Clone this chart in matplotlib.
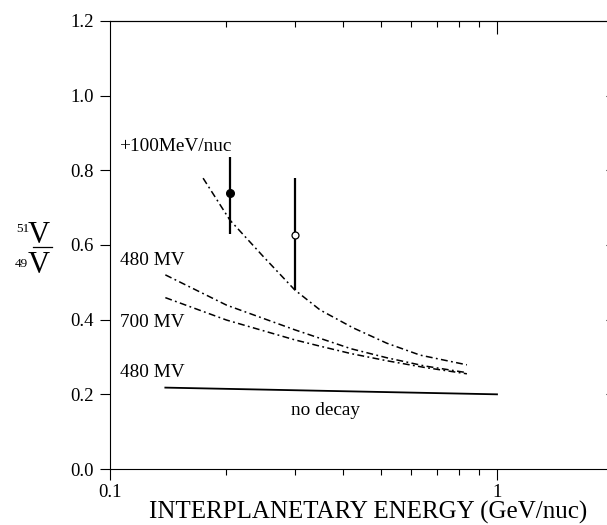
import numpy as np
import matplotlib.pyplot as plt
from matplotlib.lines import Line2D

plt.rcParams['font.family'] = ['Liberation Serif', 'DejaVu Serif']
plt.rcParams['font.serif'] = ['Liberation Serif', 'DejaVu Serif']

# curves
x_480a = [0.139, 0.2, 0.3, 0.349, 0.42, 0.519, 0.65, 0.836]
y_480a = [0.52, 0.439, 0.373, 0.350, 0.322, 0.298, 0.276, 0.258]
x_700 = [0.139, 0.2, 0.3, 0.349, 0.42, 0.519, 0.65, 0.836]
y_700 = [0.459, 0.399, 0.346, 0.329, 0.309, 0.290, 0.272, 0.255]
x_100 = [0.174, 0.204, 0.249, 0.3, 0.349, 0.425, 0.519, 0.633, 0.836]
y_100 = [0.779, 0.667, 0.569, 0.48, 0.426, 0.378, 0.337, 0.305, 0.279]
x_nodecay = [0.139, 1.0]
y_nodecay = [0.218, 0.200]

# data points
x_pts = [0.204, 0.3]
y_pts = [0.739, 0.627]
y_lo = [0.629, 0.48]
y_hi = [0.837, 0.779]

W, H = 607, 525
fig = plt.figure(figsize=(W / 100, H / 100), dpi=100)
ax = fig.add_axes([110 / W, 1 - 469 / H, 503.5 / W, 448 / H])

ds = (0, (4.5, 2.2, 1.2, 2.2))
ax.plot(x_480a, y_480a, color='black', lw=1.1, linestyle=ds)
ax.plot(x_700, y_700, color='black', lw=1.1, linestyle=ds)
ax.plot(x_100, y_100, color='black', lw=1.1, linestyle=ds)
ax.plot(x_nodecay, y_nodecay, color='black', lw=1.3)

ax.vlines(x_pts, y_lo, y_hi, color='black', lw=1.6)
ax.plot(x_pts[0], y_pts[0], 'o', color='black', ms=5.5)
ax.plot(x_pts[1], y_pts[1], 'o', mfc='white', mec='black', mew=0.9, ms=5)

ax.set_xscale('log')
ax.set_xlim(0.1, 2.0)
ax.set_ylim(0.0, 1.2)

ax.set_xticks([0.1, 1])
ax.set_xticklabels(['0.1', '1'], family='Liberation Serif')
ax.set_xticks([0.2, 0.3, 0.4, 0.5, 0.6, 0.7, 0.8, 0.9], minor=True)
ax.xaxis.set_minor_formatter(plt.NullFormatter())
ax.set_yticks([0.0, 0.2, 0.4, 0.6, 0.8, 1.0, 1.2])
ax.set_yticklabels(['0.0', '0.2', '0.4', '0.6', '0.8', '1.0', '1.2'],
                   family='Liberation Serif')

ax.tick_params(axis='x', which='major', direction='out', length=8, width=0.8,
               labelsize=13.5, pad=3, top=False)
ax.tick_params(axis='x', which='minor', direction='out', length=4, width=0.8,
               top=False)
ax.tick_params(axis='y', which='major', direction='out', length=7.5, width=0.8,
               labelsize=13.5, pad=4, right=False)
for s in ax.spines.values():
    s.set_linewidth(0.8)

# ticks on top (inside) and right (inside)
sec = ax.secondary_xaxis('top')
sec.set_xticks([1])
sec.set_xticks([0.2, 0.3, 0.4, 0.5, 0.6, 0.7, 0.8, 0.9], minor=True)
sec.tick_params(which='major', direction='in', length=9, width=0.8, labeltop=False)
sec.tick_params(which='minor', direction='in', length=4, width=0.8, labeltop=False)
sec.xaxis.set_minor_formatter(plt.NullFormatter())
sec.xaxis.set_major_formatter(plt.NullFormatter())
secy = ax.secondary_yaxis('right')
secy.set_yticks([0.2, 0.4, 0.6, 0.8, 1.0])
secy.tick_params(direction='in', length=6, width=0.8, labelright=False)

fs = 13.9
ax.text(0.106, 0.864, '+100MeV/nuc', fontsize=fs, va='center', ha='left')
ax.text(0.106, 0.558, '480 MV', fontsize=fs, va='center', ha='left')
ax.text(0.106, 0.393, '700 MV', fontsize=fs, va='center', ha='left')
ax.text(0.106, 0.258, '480 MV', fontsize=fs, va='center', ha='left')
ax.text(0.293, 0.157, 'no decay', fontsize=fs, va='center', ha='left')


def px(x, y):
    return x / W, 1 - y / H


fig.text(*px(368, 519), 'INTERPLANETARY ENERGY (GeV/nuc)', fontsize=18,
         ha='center', va='baseline')

# y label: 51V / 49V
fig.text(*px(16, 232), '51', fontsize=9.5, ha='left', va='baseline')
fig.text(*px(28, 243), 'V', fontsize=22, ha='left', va='baseline')
fig.text(*px(15, 267), '49', fontsize=9.5, ha='left', va='baseline')
fig.text(*px(28, 273), 'V', fontsize=22, ha='left', va='baseline')
fig.add_artist(Line2D([33 / W, 52 / W], [1 - 246.7 / H, 1 - 246.7 / H],
                      color='black', lw=0.9, transform=fig.transFigure))

fig.savefig('out.png', dpi=100)
